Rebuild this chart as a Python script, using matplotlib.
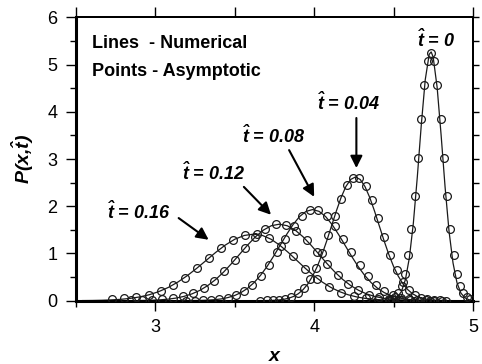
import matplotlib
matplotlib.use("Agg")
import matplotlib.pyplot as plt
from matplotlib.ticker import MultipleLocator, NullFormatter

plt.rcParams["font.family"] = ["Liberation Sans", "DejaVu Sans"]
plt.rcParams["mathtext.fontset"] = "custom"
plt.rcParams["mathtext.it"] = "Liberation Sans:bold:italic"
plt.rcParams["mathtext.rm"] = "Liberation Sans:bold:italic"
plt.rcParams["mathtext.bf"] = "Liberation Sans:bold"

# ── numerical solutions (lines) ──────────────────────────────────────────────
t0_line_x = [4.450, 4.475, 4.500, 4.525, 4.550, 4.575, 4.600, 4.625, 4.650, 4.675, 4.700, 4.725,
             4.7375, 4.750, 4.775, 4.800, 4.825, 4.850, 4.875, 4.900, 4.925, 4.950, 4.975, 5.000]
t0_line_y = [0.002, 0.008, 0.026, 0.075, 0.194, 0.446, 0.909, 1.64, 2.62, 3.72, 4.68, 5.22,
             5.27, 5.16, 4.52, 3.51, 2.41, 1.47, 0.80, 0.38, 0.16, 0.061, 0.02, 0.006]

t04_line_x = [3.66, 3.69, 3.72, 3.75, 3.78, 3.81, 3.84, 3.87, 3.90, 3.93, 3.96, 3.99, 4.02, 4.05,
              4.08, 4.11, 4.14, 4.17, 4.20, 4.23, 4.26, 4.29, 4.32, 4.35, 4.38, 4.41, 4.44, 4.47,
              4.50, 4.53, 4.56, 4.59, 4.62, 4.65, 4.68, 4.71, 4.74, 4.77, 4.80, 4.83, 4.86]
t04_line_y = [0.001, 0.002, 0.004, 0.008, 0.016, 0.029, 0.052, 0.089, 0.147, 0.233, 0.354, 0.519,
              0.728, 0.983, 1.275, 1.589, 1.902, 2.188, 2.419, 2.568, 2.62, 2.568, 2.419, 2.188,
              1.902, 1.589, 1.275, 0.983, 0.728, 0.519, 0.354, 0.233, 0.147, 0.089, 0.052, 0.029,
              0.016, 0.008, 0.004, 0.002, 0.001]

t08_line_x = [3.170, 3.211, 3.252, 3.293, 3.334, 3.375, 3.416, 3.457, 3.498, 3.539, 3.580, 3.621,
              3.662, 3.703, 3.744, 3.785, 3.826, 3.867, 3.908, 3.949, 3.990, 4.031, 4.072, 4.113,
              4.154, 4.195, 4.236, 4.277, 4.318, 4.359, 4.400, 4.441, 4.482, 4.523, 4.564, 4.605,
              4.646, 4.687, 4.728, 4.769, 4.810]
t08_line_y = [0.001, 0.001, 0.003, 0.006, 0.012, 0.021, 0.038, 0.066, 0.108, 0.172, 0.261, 0.382,
              0.537, 0.724, 0.940, 1.171, 1.401, 1.612, 1.782, 1.892, 1.93, 1.892, 1.782, 1.612,
              1.401, 1.171, 0.940, 0.724, 0.537, 0.382, 0.261, 0.172, 0.108, 0.066, 0.038, 0.021,
              0.012, 0.006, 0.003, 0.001, 0.001]

t12_line_x = [2.78, 2.83, 2.88, 2.93, 2.98, 3.03, 3.08, 3.13, 3.18, 3.23, 3.28, 3.33, 3.38, 3.43,
              3.48, 3.53, 3.58, 3.63, 3.68, 3.73, 3.78, 3.83, 3.88, 3.93, 3.98, 4.03, 4.08, 4.13,
              4.18, 4.23, 4.28, 4.33, 4.38, 4.43, 4.48, 4.53, 4.58, 4.63, 4.68, 4.73, 4.78]
t12_line_y = [0.000, 0.001, 0.002, 0.005, 0.010, 0.018, 0.032, 0.055, 0.091, 0.144, 0.219, 0.321,
              0.450, 0.608, 0.789, 0.983, 1.176, 1.353, 1.495, 1.588, 1.62, 1.588, 1.495, 1.353,
              1.176, 0.983, 0.789, 0.608, 0.450, 0.321, 0.219, 0.144, 0.091, 0.055, 0.032, 0.018,
              0.010, 0.005, 0.002, 0.001, 0.000]

t16_line_x = [2.54, 2.60, 2.66, 2.72, 2.78, 2.84, 2.90, 2.96, 3.02, 3.08, 3.14, 3.20, 3.26, 3.32,
              3.38, 3.44, 3.50, 3.56, 3.62, 3.674, 3.728, 3.782, 3.836, 3.890, 3.944, 3.998,
              4.052, 4.106, 4.160, 4.214, 4.268, 4.322, 4.376, 4.430, 4.484, 4.538, 4.592, 4.646,
              4.700]
t16_line_y = [0.002, 0.004, 0.008, 0.016, 0.028, 0.048, 0.079, 0.125, 0.191, 0.279, 0.392, 0.529,
              0.686, 0.855, 1.024, 1.178, 1.302, 1.382, 1.41, 1.382, 1.302, 1.178, 1.024, 0.855,
              0.686, 0.529, 0.392, 0.279, 0.191, 0.125, 0.079, 0.048, 0.028, 0.016, 0.008, 0.004,
              0.002, 0.001, 0.000]

# ── asymptotic solutions (points) ────────────────────────────────────────────
t0_pts_x = [4.470, 4.490, 4.511, 4.531, 4.552, 4.572, 4.593, 4.613, 4.634, 4.654, 4.675, 4.695,
            4.716, 4.736, 4.757, 4.777, 4.798, 4.818, 4.839, 4.859, 4.880, 4.900, 4.921, 4.941,
            4.962, 4.982]
t0_pts_y = [0.015, 0.036, 0.08, 0.17, 0.32, 0.57, 0.97, 1.51, 2.22, 3.02, 3.84, 4.57,
            5.07, 5.25, 5.07, 4.57, 3.84, 3.02, 2.22, 1.51, 0.97, 0.57, 0.32, 0.17,
            0.08, 0.036]

t04_pts_x = [3.661, 3.700, 3.739, 3.778, 3.817, 3.856, 3.895, 3.934, 3.973, 4.012, 4.051, 4.090,
             4.129, 4.168, 4.207, 4.246, 4.285, 4.324, 4.363, 4.402, 4.441, 4.480, 4.519, 4.558,
             4.597, 4.636, 4.675, 4.714, 4.753, 4.792, 4.831]
t04_pts_y = [0.001, 0.004, 0.009, 0.020, 0.042, 0.084, 0.156, 0.274, 0.452, 0.700, 1.018, 1.391,
             1.787, 2.155, 2.44, 2.60, 2.60, 2.43, 2.13, 1.75, 1.34, 0.97, 0.64, 0.39,
             0.22, 0.12, 0.06, 0.03, 0.012, 0.005, 0.002]

t08_pts_x = [3.194, 3.246, 3.298, 3.350, 3.402, 3.454, 3.506, 3.558, 3.610, 3.662, 3.714, 3.766,
             3.818, 3.870, 3.922, 3.974, 4.026, 4.078, 4.130, 4.182, 4.234, 4.286, 4.338, 4.390,
             4.442, 4.494, 4.546, 4.598, 4.650, 4.702, 4.754, 4.806]
t08_pts_y = [0.001, 0.003, 0.007, 0.015, 0.031, 0.062, 0.115, 0.202, 0.333, 0.516, 0.750, 1.025,
             1.316, 1.588, 1.799, 1.915, 1.915, 1.799, 1.588, 1.316, 1.025, 0.750, 0.516, 0.333,
             0.202, 0.115, 0.062, 0.031, 0.015, 0.007, 0.003, 0.001]

t12_pts_x = [2.848, 2.913, 2.978, 3.043, 3.108, 3.173, 3.238, 3.303, 3.368, 3.433, 3.498, 3.563,
             3.628, 3.693, 3.758, 3.823, 3.888, 3.953, 4.018, 4.083, 4.148, 4.213, 4.278, 4.343,
             4.408, 4.473, 4.538, 4.603, 4.668, 4.733]
t12_pts_y = [0.004, 0.008, 0.015, 0.03, 0.05, 0.09, 0.155, 0.263, 0.417, 0.618, 0.858, 1.112,
             1.347, 1.525, 1.614, 1.596, 1.476, 1.275, 1.030, 0.777, 0.548, 0.361, 0.223, 0.128,
             0.069, 0.035, 0.016, 0.007, 0.003, 0.001]

t16_pts_x = [2.728, 2.804, 2.880, 2.956, 3.032, 3.108, 3.184, 3.260, 3.336, 3.412, 3.488, 3.564,
             3.640, 3.716, 3.792, 3.868, 3.944, 4.020, 4.096, 4.172, 4.248, 4.324, 4.400, 4.476,
             4.552, 4.628]
t16_pts_y = [0.03, 0.05, 0.075, 0.12, 0.21, 0.33, 0.49, 0.69, 0.90, 1.11, 1.28, 1.39,
             1.41, 1.33, 1.16, 0.94, 0.67, 0.46, 0.29, 0.17, 0.095, 0.05, 0.025, 0.011,
             0.005, 0.002]

curves = [
    (t0_line_x, t0_line_y, t0_pts_x, t0_pts_y),
    (t04_line_x, t04_line_y, t04_pts_x, t04_pts_y),
    (t08_line_x, t08_line_y, t08_pts_x, t08_pts_y),
    (t12_line_x, t12_line_y, t12_pts_x, t12_pts_y),
    (t16_line_x, t16_line_y, t16_pts_x, t16_pts_y),
]

# labels: text, text position (baseline), arrow tail, arrow head
t_labels = ["0", "0.04", "0.08", "0.12", "0.16"]
label_pos = [(4.772, 5.37), (4.215, 4.04), (3.747, 3.34), (3.367, 2.56), (2.892, 1.73)]
arrow_from = [None, (4.266, 3.87), (3.842, 3.19), (3.557, 2.41), (3.146, 1.75)]
arrow_to = [None, (4.266, 2.81), (4.00, 2.20), (3.728, 1.82), (3.335, 1.29)]

fig = plt.figure(figsize=(4.82, 3.64), dpi=100)
ax = fig.add_axes([0.158, 0.174, 0.823, 0.778])

for lx, ly, px, py in curves:
    ax.plot(lx, ly, color="#1a1a1a", lw=0.9, zorder=2)
    ax.plot(px, py, ls="none", marker="o", ms=5.6, mfc="none", mec="#1a1a1a",
            mew=0.9, zorder=3)

for lab, pos, a0, a1 in zip(t_labels, label_pos, arrow_from, arrow_to):
    ax.text(pos[0], pos[1], r"$\hat{t}$ = " + lab, fontsize=13, fontweight="bold",
            fontstyle="italic", ha="center", va="baseline")
    if a0 is not None:
        ax.annotate("", xy=a1, xytext=a0,
                    arrowprops=dict(arrowstyle="-|>", color="k", lw=1.5,
                                    mutation_scale=18, shrinkA=0, shrinkB=0))

ax.text(2.601, 5.35, "Lines  - Numerical", fontsize=13, fontweight="bold", va="baseline")
ax.text(2.601, 4.76, "Points - Asymptotic", fontsize=13, fontweight="bold", va="baseline")

ax.set_xlim(2.5, 5.0)
ax.set_ylim(0, 6)
ax.set_xticks([3, 4, 5])
ax.xaxis.set_minor_locator(MultipleLocator(0.5))
ax.yaxis.set_major_locator(MultipleLocator(1))
ax.yaxis.set_minor_locator(MultipleLocator(0.5))
ax.tick_params(which="major", direction="out", length=7.5, width=1.0, labelsize=13, pad=6)
ax.tick_params(which="minor", direction="out", length=4.3, width=1.0)

# top and right frame ticks, unlabelled
top = ax.secondary_xaxis("top")
top.set_xticks([2.5, 3.0, 3.5, 4.0, 4.5, 5.0])
top.xaxis.set_major_formatter(NullFormatter())
top.tick_params(direction="out", length=7.5, width=1.0)
top.spines["top"].set_linewidth(1.4)
right = ax.secondary_yaxis("right")
right.set_yticks([0.5 * i for i in range(13)])
right.yaxis.set_major_formatter(NullFormatter())
right.tick_params(direction="out", length=4.3, width=1.0)
right.spines["right"].set_linewidth(1.4)

ax.spines["top"].set_linewidth(1.4)
ax.spines["right"].set_linewidth(1.4)
ax.spines["left"].set_linewidth(2.2)
ax.spines["bottom"].set_linewidth(2.2)

ax.set_xlabel("x", fontsize=14, fontweight="bold", fontstyle="italic", labelpad=8)
ax.set_ylabel(r"P(x,$\hat{t}$)", fontsize=14, fontweight="bold", fontstyle="italic", labelpad=8)

fig.savefig("out.png", dpi=100)
